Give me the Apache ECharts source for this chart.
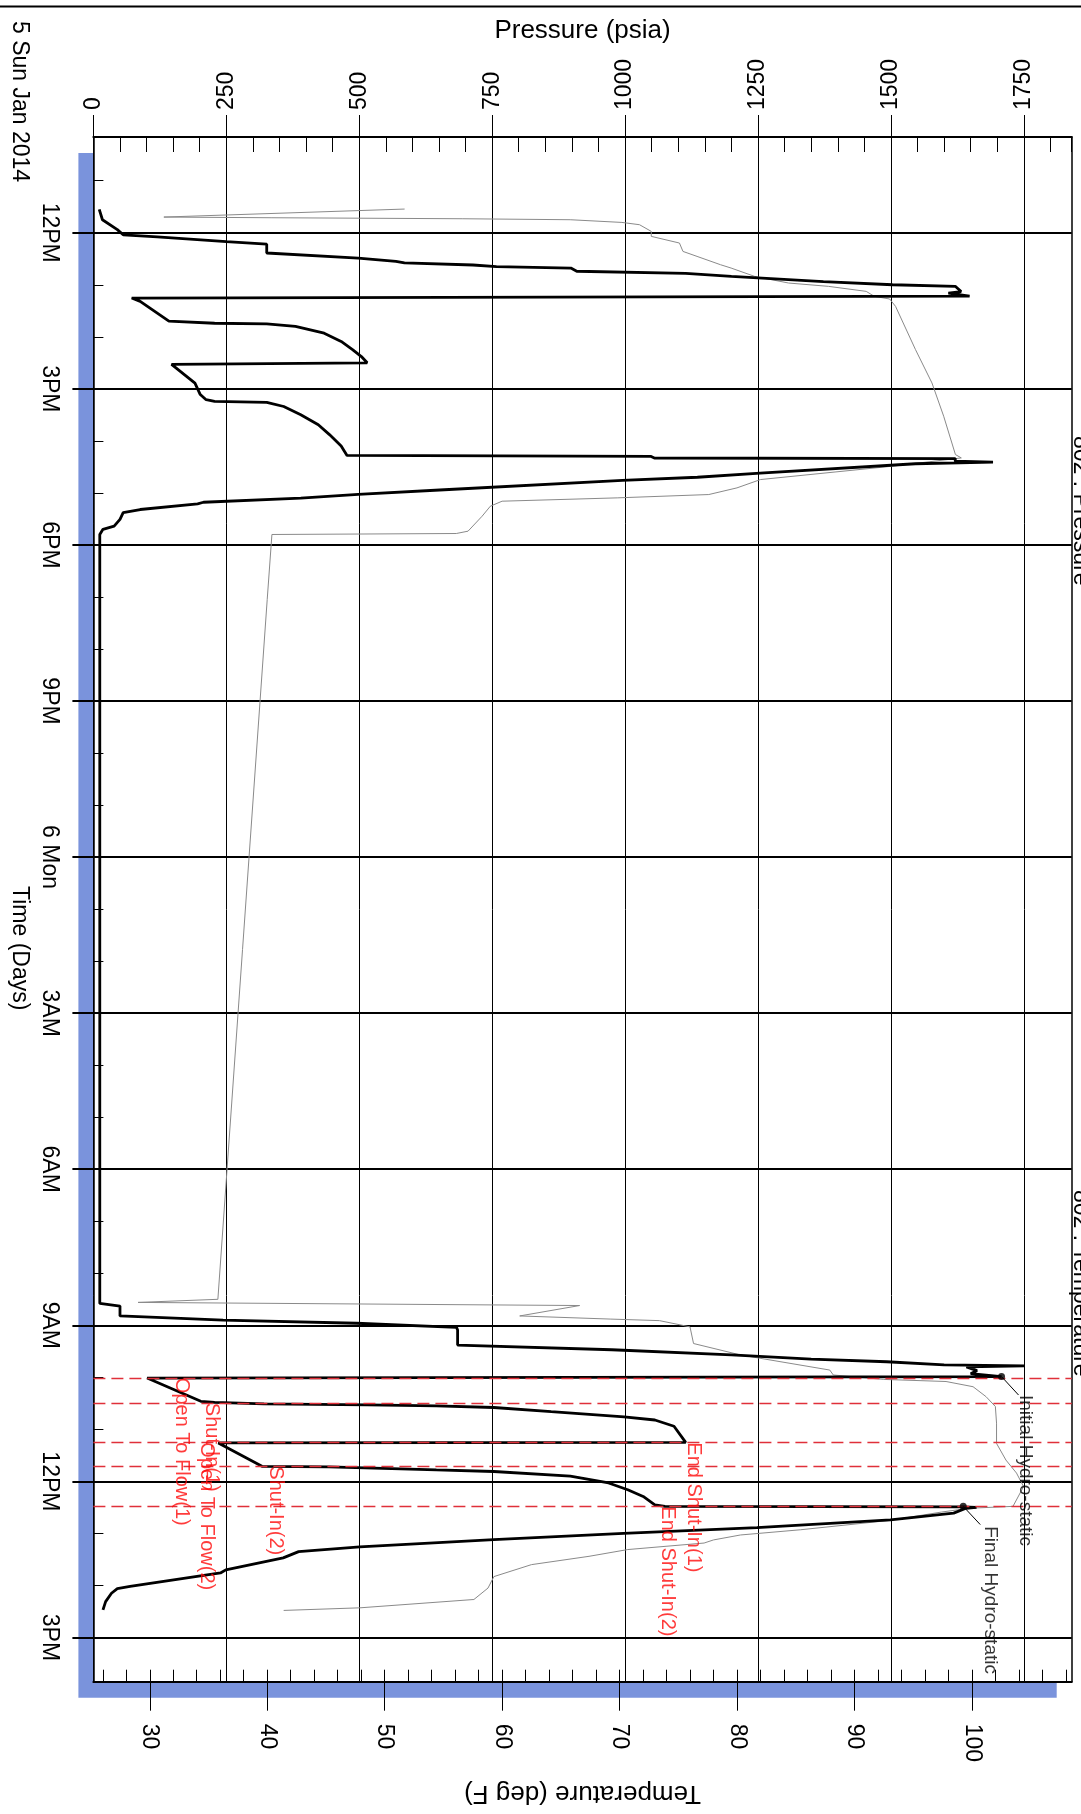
<!DOCTYPE html>
<html>
<head>
<meta charset="utf-8">
<script src="https://cdn.jsdelivr.net/npm/echarts@6/dist/echarts.min.js"></script>
<style>
html,body{margin:0;padding:0;background:#fff;}
#c{width:1081px;height:1814px;}
</style>
</head>
<body>
<div id="c"></div>
<script>
// ---- Time axis (hours since midnight, 5 Jan 2014) ----
const timeTickValues = [12, 15, 18, 21, 24, 27, 30, 33, 36, 39];
const timeTickLabels = ['12PM', '3PM', '6PM', '9PM', '6 Mon', '3AM', '6AM', '9AM', '12PM', '3PM'];
const hourTicks = [11,12,13,14,15,16,17,18,19,20,21,22,23,24,25,26,27,28,29,30,31,32,33,34,35,36,37,38,39];

// ---- Pressure axis ticks ----
const pressTickValues = [0, 250, 500, 750, 1000, 1250, 1500, 1750];

// ---- Temperature axis ticks ----
const tempTickValues = [30, 40, 50, 60, 70, 80, 90, 100];
const tempMinorTicks = [26,28,30,32,34,36,38,40,42,44,46,48,50,52,54,56,58,60,62,64,66,68,70,72,74,76,78,80,82,84,86,88,90,92,94,96,98,100,102,104,106,108];

// ---- 802 : Pressure (psia) vs time (h) ----
const pressTime = [11.55,11.75,11.94,12.04,12.08,12.17,12.22,12.39,12.49,12.55,12.58,12.62,12.65,12.68,12.74,12.78,12.84,12.94,13.00,13.03,13.13,13.16,13.22,13.24,
  13.255,13.32,13.70,13.74,13.75,13.80,13.93,14.09,14.25,14.38,14.50,14.516,
  14.53,14.89,15.11,15.21,15.24,15.26,15.34,15.50,15.69,15.88,16.10,16.28,
  16.30,16.33,16.34,16.39,16.41,16.44,16.62,16.70,16.76,16.94,17.03,17.10,17.18,17.21,17.32,17.38,17.51,17.64,17.70,17.80,
  32.58,32.63,32.82,32.90,32.96,33.04,33.09,33.38,33.47,33.57,33.65,33.70,33.76,33.78,33.80,33.87,33.93,33.985,34.005,
  34.014,34.46,34.48,34.51,34.53,34.55,34.58,34.66,34.76,34.82,34.94,35.25,
  35.26,35.71,35.72,35.78,35.81,35.90,36.03,36.16,36.29,36.45,36.48,
  36.49,36.50,36.52,36.61,36.74,36.89,37.00,37.12,37.26,37.35,37.47,37.70,37.76,38.02,38.06,38.15,38.31,38.47];
const pressValue = [11,17,45,56,120,250,326,326,498,569,585,714,758,898,909,1114,1200,1373,1503,1621,1632,1608,1648,1648,
  72,88,142,228,326,380,434,466,488,504,515,515,
  147,191,201,212,228,326,358,390,423,444,466,477,
  1049,1055,1621,1621,1692,1546,1254,1136,995,660,498,390,207,196,88,56,50,39,18,12,
  12,50,50,244,495,683,685,685,975,1200,1350,1492,1600,1752,1642,1662,1650,1708,1706,
  101,202,228,321,515,645,753,861,998,1056,1092,1114,
  235,317,443,645,753,897,969,1005,1034,1056,1075,
  1636,1661,1640,1618,1499,1248,997,753,501,386,357,249,239,69,45,34,23,18];

// ---- 802 : Temperature (deg F) vs time (h) ----
const tempTime = [11.545,11.699,11.712,11.731,11.750,11.802,11.846,11.974,12.070,12.198,12.359,12.455,12.615,12.679,12.839,12.967,13.031,13.127,13.223,13.274,13.415,14.247,14.887,15.527,16.264,16.328,
  16.488,16.744,16.904,17.032,17.096,17.160,17.256,17.448,17.736,17.781,17.800,19.05,32.50,
  32.56,32.62,32.82,32.88,32.91,33.03,33.35,33.57,33.86,33.955,34.04,34.08,34.18,34.37,34.56,34.88,35.27,35.59,35.84,36.10,
  36.48,36.51,36.54,36.59,36.75,36.93,37.03,37.125,37.185,37.31,37.44,37.60,37.83,38.05,38.27,38.43,38.48];
const tempValue = [51.7,31.2,40.4,56.6,65.8,70.2,71.7,72.7,72.7,75.1,75.4,76.6,78.6,79.5,81.5,84.4,87.8,91.0,91.7,93.0,93.5,95.2,96.6,97.6,98.6,99.1,
  93.2,82.0,80.0,77.6,69.8,60.0,59.0,58.3,57.1,56.1,40.4,40.0,35.8,
  29.0,66.6,61.5,69.2,73.4,76.0,76.3,80.3,87.9,88.2,92.5,97.8,100.1,101.2,102.0,102.1,102.1,102.9,103.8,104.4,
  103.5,100.4,99.0,97.4,93.0,85.4,80.3,78.0,77.2,70.7,67.4,62.5,59.3,58.8,57.6,47.9,41.4];

// ---- Test events (h) ----
const eventTimes = [34.01, 34.49, 35.25, 35.71, 36.48];
const eventNames = ['Open To Flow(1)', 'Shut-In(1)', 'Open To Flow(2)', 'Shut-In(2)', 'End Shut-In(1)', 'End Shut-In(2)'];
const eventLabelTime = [34.01, 34.49, 35.25, 35.71, 35.25, 36.48];
const eventLabelPress = [166, 223, 212, 342, 1128, 1079];

// ---- Hydrostatic points ----
const hydroNames = ['Initial Hydro-static', 'Final Hydro-static'];
const hydroTime = [33.985, 36.48];
const hydroPress = [1708, 1636];
const hydroLabelTime = [34.34, 36.86];
const hydroLabelPress = [1752, 1686];
const hydroLeaderEndTime = [34.34, 36.83];
const hydroLeaderEndPress = [1740, 1668];

const FONT = 'Arial, "Liberation Sans", sans-serif';
const RED = '#ff0a0a';

const chart = echarts.init(document.getElementById('c'), null, {renderer: 'canvas'});

const pressData = pressTime.map((t, i) => [pressValue[i], t]);
const tempData = tempTime.map((t, i) => [tempValue[i], t]);
const eventLabelData = eventNames.map((n, i) => ({name: n, value: [eventLabelPress[i], eventLabelTime[i]]}));
const hydroPointData = hydroNames.map((n, i) => ({name: n, value: [hydroPress[i], hydroTime[i]]}));
const hydroLabelData = hydroNames.map((n, i) => ({name: n, value: [hydroLabelPress[i], hydroLabelTime[i]]}));
const hydroLeaders = hydroNames.map((n, i) => ({coords: [[hydroPress[i], hydroTime[i]], [hydroLeaderEndPress[i], hydroLeaderEndTime[i]]]}));

const rotText = (text, x, y, size) => ({
  type: 'text', x: x, y: y, rotation: -Math.PI / 2, z: 10, silent: true,
  style: {text: text, font: size + 'px ' + FONT, fill: '#000', align: 'left', verticalAlign: 'middle'}
});

const option = {
  animation: false,
  backgroundColor: '#fff',
  textStyle: {fontFamily: FONT},
  grid: {
    left: 93.4, right: 9.3, top: 137, bottom: 132.3,
    show: true, backgroundColor: '#fff', borderColor: 'rgba(0,0,0,0)', borderWidth: 0,
    shadowColor: '#7a93dc', shadowBlur: 0, shadowOffsetX: -15, shadowOffsetY: 16
  },
  xAxis: [
    { // Pressure
      type: 'value', position: 'top', min: 0, max: 1840,
      name: 'Pressure (psia)', nameLocation: 'middle', nameGap: 93,
      nameTextStyle: {fontSize: 26, color: '#000', fontFamily: FONT},
      axisLine: {show: true, onZero: false, lineStyle: {color: '#000', width: 2}},
      axisTick: {show: true, inside: false, length: 22, customValues: pressTickValues, lineStyle: {color: '#000', width: 1}},
      axisLabel: {show: true, rotate: -90, margin: 27, fontSize: 23, color: '#000', fontFamily: FONT,
        customValues: pressTickValues, formatter: v => String(v)},
      splitLine: {show: true, lineStyle: {color: '#000', width: 1}}
    },
    { // Pressure minor ticks
      type: 'value', position: 'top', min: 0, max: 1840, interval: 50,
      axisLine: {show: false},
      axisTick: {show: true, inside: true, length: 15, lineStyle: {color: '#000', width: 1}},
      axisLabel: {show: false}, splitLine: {show: false}
    },
    { // Temperature
      type: 'value', position: 'bottom', min: 25.2, max: 108.5,
      name: 'Temperature (deg F)', nameLocation: 'middle', nameGap: 98, nameRotate: 180,
      nameTextStyle: {fontSize: 26, color: '#000', fontFamily: FONT},
      axisLine: {show: true, onZero: false, lineStyle: {color: '#000', width: 2}},
      axisTick: {show: true, inside: false, length: 29, customValues: tempTickValues, lineStyle: {color: '#000', width: 1}},
      axisLabel: {show: true, rotate: -90, margin: 42, fontSize: 23, color: '#000', fontFamily: FONT,
        customValues: tempTickValues, formatter: v => String(v)},
      splitLine: {show: false}
    },
    { // Temperature minor ticks
      type: 'value', position: 'bottom', min: 25.2, max: 108.5,
      axisLine: {show: false},
      axisTick: {show: true, inside: true, length: 12, customValues: tempMinorTicks, lineStyle: {color: '#000', width: 1}},
      axisLabel: {show: false}, splitLine: {show: false}
    }
  ],
  yAxis: [
    { // Time
      type: 'value', position: 'left', inverse: true, min: 10.16, max: 39.85,
      axisLine: {show: true, onZero: false, lineStyle: {color: '#000', width: 1.5}},
      axisTick: {show: true, inside: false, length: 21, customValues: timeTickValues, lineStyle: {color: '#000', width: 2}},
      axisLabel: {show: true, rotate: -90, margin: 33, fontSize: 23, color: '#000', fontFamily: FONT,
        customValues: timeTickValues,
        formatter: v => timeTickLabels[timeTickValues.indexOf(Math.round(v))]},
      splitLine: {show: true, lineStyle: {color: '#000', width: 2}}
    },
    { // hourly minor ticks
      type: 'value', position: 'left', inverse: true, min: 10.16, max: 39.85,
      axisLine: {show: false},
      axisTick: {show: true, inside: true, length: 10, customValues: hourTicks, lineStyle: {color: '#000', width: 1}},
      axisLabel: {show: false}, splitLine: {show: false}
    },
    { // right frame edge
      type: 'value', position: 'right', inverse: true, min: 10.16, max: 39.85,
      axisLine: {show: true, onZero: false, lineStyle: {color: '#000', width: 1.5}},
      axisTick: {show: false}, axisLabel: {show: false}, splitLine: {show: false}
    }
  ],
  graphic: [
    {type: 'line', shape: {x1: 0, y1: 6.5, x2: 1081, y2: 6.5}, style: {stroke: '#000', lineWidth: 2}, z: 10, silent: true},
    rotText('5 Sun Jan 2014', 19, 21, 23),
    rotText('Time (Days)', 19, 886, 23),
    rotText('802 : Pressure', 1080, 436, 23),
    rotText('802 : Temperature', 1080, 1190, 23)
  ],
  series: [
    {
      name: '802 : Temperature', type: 'line', xAxisIndex: 2, yAxisIndex: 0,
      data: tempData, showSymbol: false, symbol: 'none', silent: true,
      lineStyle: {color: '#8a8a8a', width: 1}, z: 3
    },
    {
      name: '802 : Pressure', type: 'line', xAxisIndex: 0, yAxisIndex: 0,
      data: pressData, showSymbol: false, symbol: 'none', silent: true,
      lineStyle: {color: '#000', width: 2.8}, z: 4,
      markLine: {
        silent: true, symbol: 'none', animation: false,
        label: {show: false},
        lineStyle: {color: '#e0303a', width: 1.4, type: [12, 6]},
        data: eventTimes.map(t => ({yAxis: t}))
      }
    },
    {
      name: 'leaders', type: 'lines', coordinateSystem: 'cartesian2d', xAxisIndex: 0, yAxisIndex: 0,
      data: hydroLeaders, silent: true, lineStyle: {color: '#000', width: 1, opacity: 1}, z: 5
    },
    {
      name: 'hydro', type: 'scatter', xAxisIndex: 0, yAxisIndex: 0,
      data: hydroPointData, symbol: 'circle', symbolSize: 7, silent: true,
      itemStyle: {color: '#000'}, z: 6
    },
    {
      name: 'hydroLabels', type: 'scatter', xAxisIndex: 0, yAxisIndex: 0,
      data: hydroLabelData, symbolSize: 1, silent: true,
      itemStyle: {color: 'rgba(0,0,0,0)'}, z: 7,
      label: {show: true, formatter: '{b}', position: 'inside', rotate: -90, align: 'left', verticalAlign: 'middle',
        fontSize: 19, color: '#000', fontFamily: FONT}
    },
    {
      name: 'eventLabels', type: 'scatter', xAxisIndex: 0, yAxisIndex: 0,
      data: eventLabelData, symbolSize: 1, silent: true,
      itemStyle: {color: 'rgba(0,0,0,0)'}, z: 7,
      label: {show: true, formatter: '{b}', position: 'inside', rotate: -90, align: 'left', verticalAlign: 'middle',
        fontSize: 20, color: RED, fontFamily: FONT}
    }
  ]
};
chart.setOption(option);
</script>
</body>
</html>
